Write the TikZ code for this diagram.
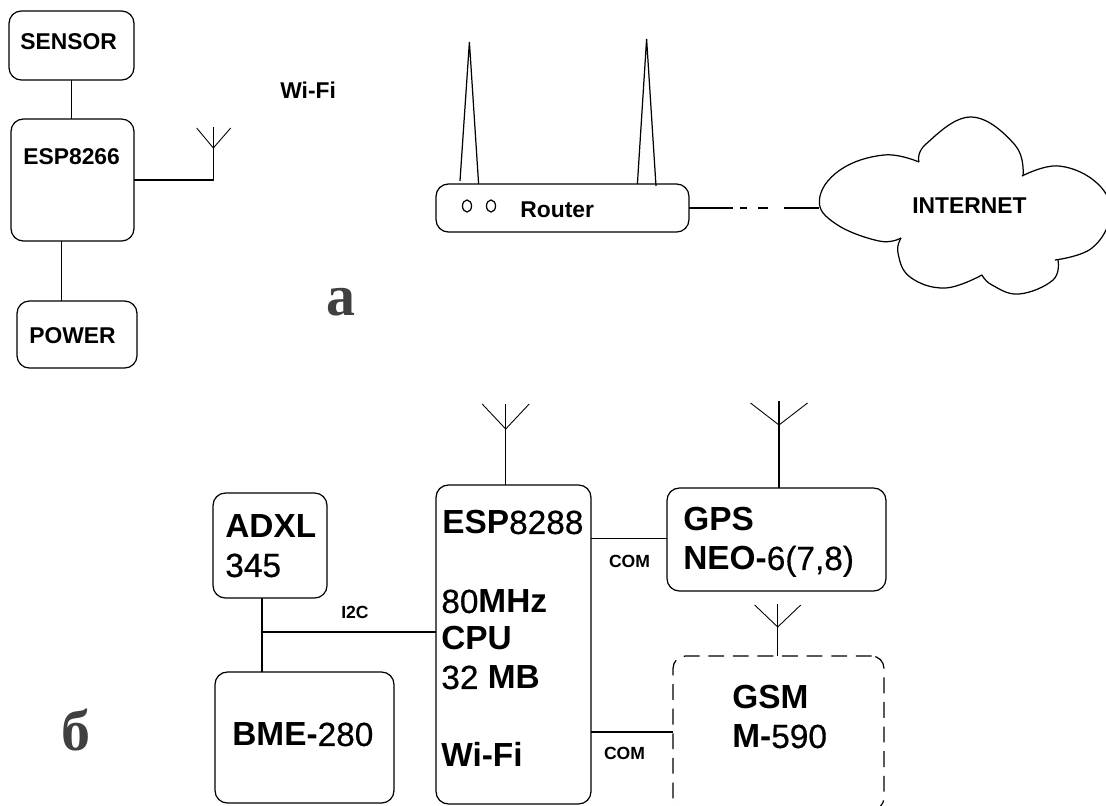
\documentclass[tikz,border=0pt]{standalone}
\usepackage{fontspec}
\setmainfont{Liberation Sans}
\newfontfamily\labelfont{Liberation Serif}
\newfontfamily\digitfont[FakeBold=0.5]{Liberation Sans}
\tikzset{
  block/.style={draw, rounded corners=7pt, line width=0.7pt, inner sep=0pt, outer sep=0pt},
  wire/.style={line width=0.7pt},
  arm/.style={line width=0.5pt},
  smalltext/.style={font=\fontsize{13}{15}\selectfont\bfseries, inner sep=0pt, anchor=west, text height=9.3pt, text depth=0pt},
  bigtext/.style={font=\digitfont\fontsize{19}{22}\selectfont, inner sep=0pt, anchor=west, text height=13.6pt, text depth=0pt},
  tinytext/.style={font=\fontsize{10}{12}\selectfont\bfseries, inner sep=0pt},
  parttext/.style={font=\labelfont\fontsize{33}{38}\selectfont\bfseries, text=black!75, inner sep=0pt}
}
\newcommand{\heavy}[1]{{\fontspec{Liberation Sans Bold}#1}}
\begin{document}
\begin{tikzpicture}[x=0.02cm, y=-0.02cm]
  \useasboundingbox (0,0) rectangle (1106,805);

  % part a: blocks
  \node[block, minimum width=2.5cm, minimum height=1.38cm] (sensor) at (71.5,45.5) {};
  \node[block, minimum width=2.46cm, minimum height=2.44cm] (esp) at (72.5,180) {};
  \node[block, minimum width=2.4cm, minimum height=1.34cm] (power) at (77,334.5) {};
  \node[block, minimum width=5.06cm, minimum height=0.96cm] (router) at (562.5,208) {};

  \node[smalltext] (sensortext) at (20,41) {SENSOR};
  \node[smalltext] (esptext) at (23,156) {ESP8266};
  \node[smalltext] (powertext) at (29,335) {POWER};
  \node[smalltext] (wifitext) at (280,90) {Wi-Fi};
  \node[smalltext] (routertext) at (520,209) {Router};
  \node[smalltext] (nettext) at (912,205) {INTERNET};
  \node[parttext] (parta) at (341,302) {а};

  % part a: connectors
  \draw[wire] (sensor.south) -- (sensor.south |- esp.north);
  \draw[wire] ([xshift=-0.22cm]esp.south) -- ([xshift=-0.22cm]esp.south |- power.north);

  % antenna of the ESP8266
  \coordinate (antA) at (213.3,127);
  \draw[wire] (esp.east) -- (esp.east -| antA) -- (antA);
  \draw[arm] (196.7,128) -- (213.3,148) -- (230.7,128);

  % router antennas and lamps
  \draw[wire] (460,181) -- (469.4,42) -- (478.6,184);
  \draw[wire] (637.4,184) -- (646.6,39) -- (656,186);
  \foreach \lx in {467,491}
    \draw[wire] (\lx,206) ellipse (4.5 and 6);

  % line to the cloud
  \coordinate (cloudin) at (819.4,208);
  \draw[wire, dash pattern=on 25pt off 4pt on 4pt off 6.3pt on 5.7pt off 9.1pt on 20.5pt off 50pt] (router.east) -- (cloudin);

  % cloud
  \draw[wire] plot[smooth, tension=0.7] coordinates {(901,238) (879,241) (836,224) (819.4,200) (840,170) (884,155) (919,162)};
  \draw[wire] plot[smooth, tension=0.7] coordinates {(919,162) (926,144) (971,117) (1015,145) (1023,176)};
  \draw[wire] plot[smooth, tension=0.7] coordinates {(1022,176) (1059,166) (1098,184) (1110,215) (1092,248) (1055,260)};
  \draw[wire] plot[smooth, tension=0.7] coordinates {(1058,260) (1053,280) (1019,294) (992,285) (982,275)};
  \draw[wire] plot[smooth, tension=0.7] coordinates {(982,275) (945,288) (910,277) (898,253) (901,238)};

  % part b: blocks
  \node[block, minimum width=2.28cm, minimum height=2.1cm] (adxl) at (270,545.5) {};
  \node[block, minimum width=3.58cm, minimum height=2.62cm] (bme) at (304.5,737.5) {};
  \node[block, minimum width=3.1cm, minimum height=6.38cm] (mcu) at (513.5,644.5) {};
  \node[block, minimum width=4.38cm, minimum height=2.06cm] (gps) at (776.5,539.5) {};
  \node[block, dash pattern=on 9pt off 5pt, minimum width=4.22cm, minimum height=3.08cm] (gsm) at (778.5,733) {};

  \node[bigtext] (adxltext) at (225,526) {\heavy{ADXL}};
  \node[bigtext] (adxlnum) at (225,565) {345};
  \node[bigtext] (bmetext) at (232,734) {\heavy{BME-}280};
  \node[bigtext] (mcutext) at (442,522) {\heavy{ESP}8288};
  \node[bigtext] (freqtext) at (441,601) {80\heavy{MHz}};
  \node[bigtext] (cputext) at (441,638) {\heavy{CPU}};
  \node[bigtext] (memtext) at (441,677) {32 \heavy{MB}};
  \node[bigtext] (mcuwifi) at (441,755) {\heavy{Wi-Fi}};
  \node[bigtext] (gpstext) at (683,519) {\heavy{GPS}};
  \node[bigtext] (neotext) at (683,558) {\heavy{NEO-}6(7,8)};
  \node[bigtext] (gsmtext) at (732,697) {\heavy{GSM}};
  \node[bigtext] (gsmnum) at (732,736) {\heavy{M-}590};
  \node[tinytext] (i2ctext) at (355,612) {I2C};
  \node[tinytext] (comup) at (629.5,561) {COM};
  \node[tinytext] (comdown) at (624.5,753) {COM};
  \node[parttext] (partb) at (76,730) {б};

  % part b: connectors
  \coordinate (bus) at (262,632);
  \draw[wire] (bus |- adxl.south) -- (bus |- bme.north);
  \draw[wire] (bus) -- (bus -| mcu.west);
  \coordinate (gpsport) at (591,538.7);
  \draw[wire] (gpsport) -- (gpsport -| gps.west);
  \coordinate (gsmport) at (591,732);
  \draw[wire] (gsmport) -- (gsmport -| gsm.west);

  % part b: antennas
  \coordinate (antM) at (505.7,404);
  \coordinate (antG) at (779,401);
  \coordinate (antS) at (777.7,604);
  \draw[wire] (antM) -- (antM |- mcu.north);
  \draw[wire] (antG) -- (antG |- gps.north);
  \draw[wire] (antS) -- (antS |- gsm.north);
  \foreach \ax/\tip/\fork/\wd in {505.7/404/429/23.5, 779/403/425/28.5, 777.7/605/627/23}
    \draw[arm] (\ax-\wd,\tip) -- (\ax,\fork) -- (\ax+\wd,\tip);
\end{tikzpicture}
\end{document}
